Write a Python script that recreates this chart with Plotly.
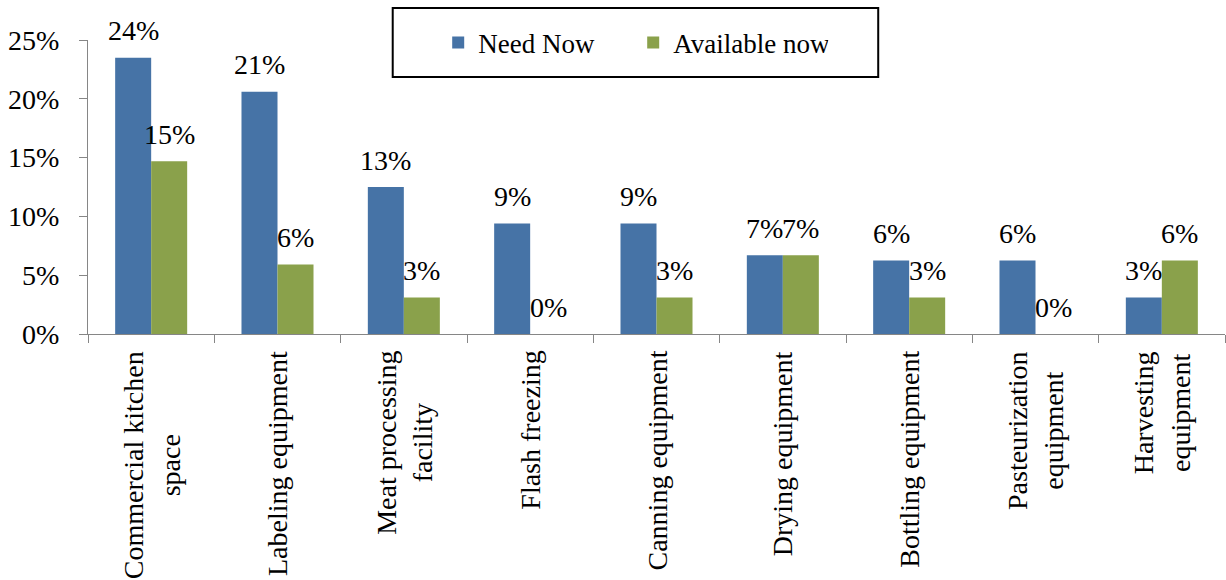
import plotly.graph_objects as go

categories = ["Commercial kitchen<br>space", "Labeling equipment", "Meat processing<br>facility",
              "Flash freezing", "Canning equipment", "Drying equipment", "Bottling equipment",
              "Pasteurization<br>equipment", "Harvesting<br>equipment"]
need_now = [23.5, 20.6, 12.5, 9.4, 9.4, 6.7, 6.25, 6.25, 3.1]
available_now = [14.7, 5.9, 3.1, 0.0, 3.1, 6.7, 3.1, 0.0, 6.25]
need_labels = ["24%", "21%", "13%", "9%", "9%", "7%", "6%", "6%", "3%"]
avail_labels = ["15%", "6%", "3%", "0%", "3%", "7%", "3%", "0%", "6%"]
y_ticks = [0, 5, 10, 15, 20, 25]
y_tick_text = ["0%", "5%", "10%", "15%", "20%", "25%"]

BLUE = "#4673A6"
GREEN = "#8AA14B"
FONT = "Liberation Serif"
FS = 28
BARGAP = 0.43

idx = list(range(len(categories)))

fig = go.Figure()
fig.add_trace(go.Bar(x=idx, y=need_now, name="Need Now", marker=dict(color=BLUE, line=dict(width=0))))
fig.add_trace(go.Bar(x=idx, y=available_now, name="Available now", marker=dict(color=GREEN, line=dict(width=0))))

half = (1 - BARGAP) / 4
annotations = []
for i in idx:
    annotations.append(dict(x=i - half, y=need_now[i], xref="x", yref="y", text=need_labels[i],
                            showarrow=False, yanchor="middle", yshift=27,
                            font=dict(family=FONT, size=FS, color="black")))
    annotations.append(dict(x=i + half, y=available_now[i], xref="x", yref="y", text=avail_labels[i],
                            showarrow=False, yanchor="middle", yshift=27,
                            font=dict(family=FONT, size=FS, color="black")))
    annotations.append(dict(x=i, y=0, xref="x", yref="paper", text=categories[i], textangle=-90,
                            showarrow=False, yanchor="top", xanchor="center", align="center", yshift=-15,
                            font=dict(family=FONT, size=FS, color="black")))

fig.update_layout(
    width=1226, height=580,
    margin=dict(l=88, r=1, t=40, b=246),
    paper_bgcolor="white", plot_bgcolor="white",
    barmode="group", bargap=BARGAP, bargroupgap=0,
    font=dict(family=FONT, size=FS, color="black"),
    showlegend=True,
    legend=dict(orientation="h", x=0.308, xanchor="left", y=0.99, yanchor="middle",
                bgcolor="rgba(0,0,0,0)", borderwidth=0, entrywidth=150,
                font=dict(family=FONT, size=27, color="black")),
    annotations=annotations,
    shapes=[dict(type="rect", xref="paper", yref="paper", x0=0.268, x1=0.695, y0=0.874, y1=1.109,
                 line=dict(color="black", width=2), fillcolor="rgba(0,0,0,0)", layer="below")],
    xaxis=dict(type="linear", range=[-0.5, len(categories) - 0.5], tickmode="array",
               tickvals=[i - 0.5 for i in range(len(categories) + 1)], ticktext=[""] * (len(categories) + 1),
               showticklabels=False, ticks="outside", ticklen=8, tickcolor="#868686",
               showline=True, linecolor="#868686", linewidth=1, showgrid=False, zeroline=False),
    yaxis=dict(range=[0, 25], tickmode="array", tickvals=y_ticks, ticktext=y_tick_text,
               ticks="outside", ticklen=8, tickcolor="#868686", ticklabelstandoff=14,
               showline=True, linecolor="#868686", linewidth=1, showgrid=False, zeroline=False,
               tickfont=dict(family=FONT, size=FS, color="black")),
)

fig.write_html("out.html", config={"displayModeBar": False},
               post_script="document.body.style.margin='0px';document.body.style.overflow='hidden';")
